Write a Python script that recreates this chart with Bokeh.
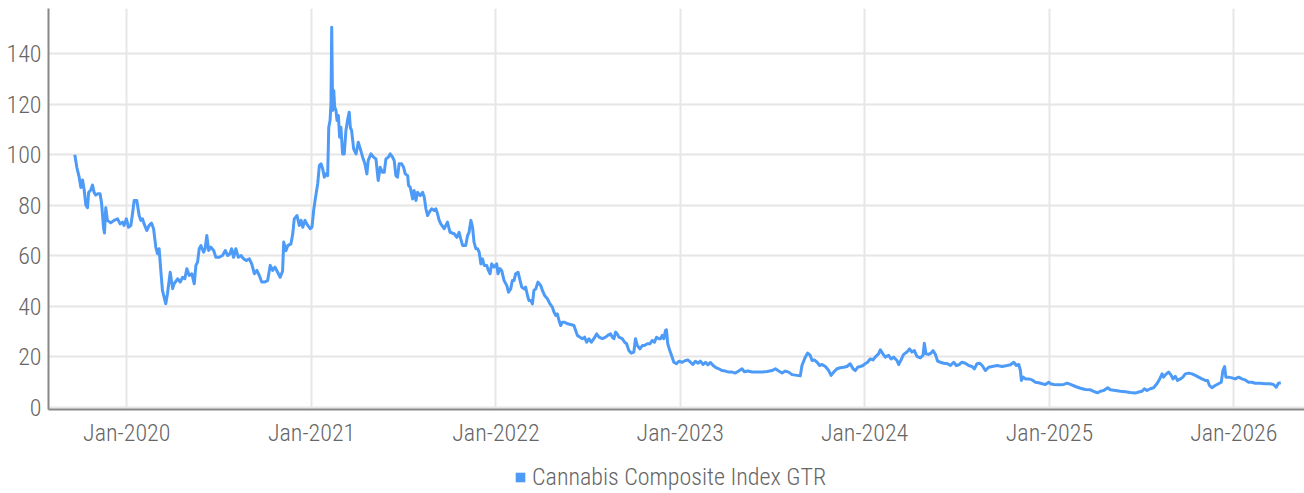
import datetime as dt
from bokeh.plotting import figure
from bokeh.layouts import column
from bokeh.models import (Range1d, FixedTicker, DatetimeTickFormatter, Legend,
                          LegendItem, ColumnDataSource)
from bokeh.embed import file_html
from bokeh.resources import INLINE

# ---------------- data ----------------
series_name = "Cannabis Composite Index GTR"

# dates as fractional years
years = [
    2019.718, 2019.729, 2019.742, 2019.751, 2019.760, 2019.769, 2019.778, 2019.787, 2019.793, 2019.805,
    2019.814, 2019.823, 2019.832, 2019.841, 2019.855, 2019.863, 2019.874, 2019.879, 2019.886, 2019.895,
    2019.913, 2019.931, 2019.950, 2019.964, 2019.977, 2019.985, 2019.998, 2020.009, 2020.022, 2020.031,
    2020.040, 2020.054, 2020.067, 2020.076, 2020.085, 2020.094, 2020.108, 2020.121, 2020.134, 2020.145,
    2020.157, 2020.166, 2020.175, 2020.184, 2020.193, 2020.202, 2020.211, 2020.220, 2020.235, 2020.248,
    2020.256, 2020.275, 2020.289, 2020.302, 2020.314, 2020.325, 2020.338, 2020.352, 2020.365, 2020.374,
    2020.383, 2020.392, 2020.401, 2020.416, 2020.424, 2020.433, 2020.443, 2020.455, 2020.470, 2020.482,
    2020.500, 2020.518, 2020.533, 2020.546, 2020.558, 2020.567, 2020.578, 2020.590, 2020.603, 2020.618,
    2020.632, 2020.646, 2020.663, 2020.676, 2020.690, 2020.704, 2020.717, 2020.730, 2020.744, 2020.762,
    2020.776, 2020.789, 2020.802, 2020.816, 2020.830, 2020.843, 2020.849, 2020.861, 2020.871, 2020.888,
    2020.898, 2020.906, 2020.921, 2020.933, 2020.943, 2020.952, 2020.964, 2020.979, 2020.993, 2021.002,
    2021.011, 2021.020, 2021.033, 2021.042, 2021.051, 2021.060, 2021.069, 2021.078, 2021.087, 2021.093,
    2021.100, 2021.105, 2021.109, 2021.114, 2021.120, 2021.125, 2021.132, 2021.138, 2021.145, 2021.152,
    2021.159, 2021.168, 2021.177, 2021.186, 2021.196, 2021.204, 2021.210, 2021.217, 2021.228, 2021.241,
    2021.253, 2021.264, 2021.277, 2021.289, 2021.300, 2021.307, 2021.322, 2021.336, 2021.349, 2021.361,
    2021.372, 2021.385, 2021.394, 2021.403, 2021.416, 2021.426, 2021.439, 2021.448, 2021.457, 2021.466,
    2021.475, 2021.488, 2021.499, 2021.508, 2021.521, 2021.526, 2021.535, 2021.548, 2021.556, 2021.566,
    2021.575, 2021.589, 2021.602, 2021.611, 2021.620, 2021.629, 2021.638, 2021.651, 2021.665, 2021.674,
    2021.683, 2021.692, 2021.701, 2021.719, 2021.737, 2021.751, 2021.773, 2021.788, 2021.800, 2021.809,
    2021.819, 2021.836, 2021.846, 2021.854, 2021.864, 2021.873, 2021.881, 2021.891, 2021.900, 2021.909,
    2021.918, 2021.927, 2021.936, 2021.950, 2021.959, 2021.968, 2021.977, 2021.990, 2022.004, 2022.011,
    2022.022, 2022.031, 2022.044, 2022.059, 2022.068, 2022.080, 2022.089, 2022.098, 2022.107, 2022.120,
    2022.131, 2022.140, 2022.152, 2022.161, 2022.171, 2022.179, 2022.189, 2022.198, 2022.206, 2022.216,
    2022.228, 2022.243, 2022.252, 2022.264, 2022.279, 2022.293, 2022.306, 2022.315, 2022.324, 2022.333,
    2022.342, 2022.351, 2022.360, 2022.373, 2022.387, 2022.405, 2022.423, 2022.432, 2022.442, 2022.456,
    2022.469, 2022.481, 2022.492, 2022.504, 2022.517, 2022.531, 2022.546, 2022.559, 2022.577, 2022.595,
    2022.607, 2022.622, 2022.631, 2022.640, 2022.649, 2022.658, 2022.667, 2022.685, 2022.698, 2022.709,
    2022.721, 2022.734, 2022.748, 2022.757, 2022.767, 2022.781, 2022.794, 2022.806, 2022.821, 2022.835,
    2022.848, 2022.860, 2022.871, 2022.884, 2022.893, 2022.902, 2022.911, 2022.920, 2022.925, 2022.932,
    2022.943, 2022.956, 2022.965, 2022.979, 2022.992, 2023.010, 2023.028, 2023.041, 2023.055, 2023.068,
    2023.082, 2023.097, 2023.109, 2023.124, 2023.137, 2023.149, 2023.164, 2023.178, 2023.191, 2023.209,
    2023.227, 2023.245, 2023.263, 2023.281, 2023.299, 2023.317, 2023.335, 2023.348, 2023.366, 2023.390,
    2023.417, 2023.444, 2023.471, 2023.498, 2023.516, 2023.534, 2023.552, 2023.570, 2023.588, 2023.606,
    2023.633, 2023.651, 2023.660, 2023.678, 2023.691, 2023.705, 2023.715, 2023.727, 2023.742, 2023.756,
    2023.769, 2023.787, 2023.805, 2023.818, 2023.832, 2023.850, 2023.868, 2023.886, 2023.904, 2023.922,
    2023.937, 2023.949, 2023.962, 2023.976, 2023.991, 2024.003, 2024.016, 2024.030, 2024.045, 2024.057,
    2024.075, 2024.085, 2024.099, 2024.112, 2024.130, 2024.143, 2024.157, 2024.175, 2024.184, 2024.197,
    2024.211, 2024.229, 2024.243, 2024.256, 2024.269, 2024.283, 2024.301, 2024.316, 2024.323, 2024.332,
    2024.346, 2024.359, 2024.370, 2024.383, 2024.395, 2024.410, 2024.428, 2024.449, 2024.464, 2024.482,
    2024.496, 2024.513, 2024.527, 2024.545, 2024.563, 2024.581, 2024.594, 2024.608, 2024.623, 2024.636,
    2024.653, 2024.671, 2024.690, 2024.717, 2024.744, 2024.771, 2024.789, 2024.807, 2024.821, 2024.834,
    2024.843, 2024.848, 2024.858, 2024.870, 2024.888, 2024.906, 2024.924, 2024.942, 2024.961, 2024.978,
    2024.996, 2025.005, 2025.023, 2025.050, 2025.078, 2025.096, 2025.114, 2025.141, 2025.168, 2025.195,
    2025.222, 2025.249, 2025.262, 2025.276, 2025.294, 2025.316, 2025.330, 2025.358, 2025.385, 2025.412,
    2025.439, 2025.466, 2025.484, 2025.502, 2025.515, 2025.529, 2025.547, 2025.565, 2025.583, 2025.598,
    2025.611, 2025.619, 2025.634, 2025.646, 2025.659, 2025.670, 2025.683, 2025.695, 2025.710, 2025.724,
    2025.737, 2025.755, 2025.773, 2025.791, 2025.809, 2025.827, 2025.845, 2025.858, 2025.868, 2025.881,
    2025.899, 2025.917, 2025.932, 2025.941, 2025.950, 2025.957, 2025.971, 2025.990, 2026.008, 2026.026,
    2026.044, 2026.062, 2026.080, 2026.098, 2026.116, 2026.143, 2026.170, 2026.197, 2026.215, 2026.230,
    2026.242, 2026.255,
]

index_values = [
    100, 95, 91, 87, 90, 86, 80, 79, 85, 86,
    88, 85, 84, 84.5, 84.5, 81, 71, 69, 79, 74,
    73, 74, 74.6, 72.6, 73.3, 72, 74.6, 71.3, 72, 76.6,
    81.9, 81.9, 75.9, 74, 74.6, 72.6, 70, 72, 72.9, 70.7,
    63.4, 60.8, 62.8, 54.2, 46.3, 43.6, 41, 45, 53.5, 47,
    48.9, 50.9, 49.6, 51.5, 50.9, 54.9, 52.2, 52.9, 48.9, 56.2,
    57.5, 62.8, 64, 61.4, 62.8, 68, 62.1, 63.4, 62.1, 59.4,
    59.4, 60.1, 62.1, 60.1, 60.8, 62.8, 59.4, 62.8, 59.4, 60.1,
    58.8, 58.1, 58.8, 56.8, 52.9, 54.2, 52.2, 49.6, 49.6, 50.2,
    56.2, 54.2, 55.5, 53.5, 51.5, 54, 65.4, 62, 64, 64.7,
    68.7, 74.6, 75.9, 72, 74, 71.3, 74, 72, 70.7, 71.3,
    77.9, 82.5, 88.5, 95.7, 96.4, 94.4, 91.1, 92.4, 91.7, 110.8,
    113.5, 120.1, 150.4, 117.5, 125.4, 118.8, 117.5, 113.5, 115.5, 106.9,
    110.8, 100.3, 100.3, 109.5, 114.1, 116.8, 110.8, 109.5, 102.3, 100.3,
    104.9, 102.3, 99, 96.4, 92.4, 97.7, 100.3, 99, 98.3, 89.8,
    95, 93, 93, 98.3, 99, 100.3, 99, 97.7, 91.7, 91.1,
    96.4, 96.4, 95, 92.4, 91.7, 87.8, 87.1, 82.5, 85.8, 81.9,
    85.1, 83.8, 85.1, 83.2, 78.6, 75.9, 77.2, 78.6, 77.9, 78.6,
    76.6, 74, 72.6, 70.7, 73.3, 69.3, 68.7, 67.3, 69.3, 66.7,
    64.1, 64.1, 68, 69.3, 74, 71.3, 65.4, 62.8, 62.8, 61.4,
    56.8, 58.8, 56.2, 56.2, 54.2, 52.9, 56.8, 55.5, 56.8, 52.9,
    54.9, 54.2, 50.2, 48.2, 45.6, 46.9, 50.2, 50.2, 52.9, 53.5,
    50.2, 47.6, 46.9, 47.6, 44.3, 42.3, 42.3, 41, 46.3, 46.9,
    49.6, 48.2, 46.3, 44.3, 43, 41, 39.7, 37.7, 36.4, 37,
    34.4, 32.4, 33.7, 33.7, 33.1, 32.8, 32.4, 30.5, 28.5, 27.8,
    27.2, 27.8, 25.8, 27.2, 25.8, 27.2, 29.1, 27.8, 27.2, 27.8,
    28.5, 29.1, 27.8, 27.2, 29.8, 29.1, 27.8, 27.2, 25.8, 25.2,
    22.5, 21.5, 21.9, 27.2, 24.5, 23.2, 24.5, 24.5, 25.2, 25.2,
    26.5, 25.8, 27.8, 27.2, 27.2, 28.5, 27.2, 30.5, 30.7, 25.2,
    22.5, 19.9, 17.9, 17.3, 18.3, 17.9, 18.6, 18.8, 17.9, 17,
    18.3, 17.5, 18.3, 17, 17.9, 16.9, 17.8, 16.6, 15.9, 15.3,
    14.6, 14.4, 14, 14, 13.6, 14.4, 15.3, 14.1, 14.4, 14,
    14, 14, 14.2, 14.6, 15.3, 14.4, 13.6, 14.4, 14, 13,
    12.7, 12.5, 16.6, 19.9, 21.5, 20.6, 18.6, 18.8, 17.9, 16.6,
    17, 16.2, 14.6, 12.7, 14, 15.3, 15.7, 15.9, 16.2, 17.3,
    15.3, 14.6, 15.9, 16.2, 16.6, 17.3, 17.9, 19.2, 18.8, 19.9,
    21.2, 22.8, 21.2, 19.9, 20.6, 19.2, 19.9, 18.6, 17, 18.8,
    21, 21.9, 23.2, 21.9, 22.5, 20.2, 19.6, 20.6, 25.4, 21.2,
    21, 21.5, 22.5, 21, 18.3, 17.9, 17.5, 17.3, 16.6, 17.9,
    16.6, 17, 17.9, 17.5, 16.6, 16.2, 15.3, 17.3, 17.5, 16.6,
    14.6, 15.9, 16.2, 16.6, 16.2, 16.6, 16.9, 17.9, 16.6, 17,
    14.6, 10.7, 12, 11.3, 11.3, 10.9, 10, 9.8, 9.4, 9.1,
    10, 9.4, 9.1, 9, 9.1, 9.6, 9.1, 8.3, 7.6, 7.1,
    7, 6.1, 5.8, 6.4, 6.7, 7.8, 7, 6.7, 6.4, 6.2,
    5.9, 5.7, 6.1, 6.4, 7.4, 6.7, 7.4, 7.8, 9.4, 11.3,
    13.3, 12, 13.3, 14, 12.9, 11.3, 12.3, 10.7, 11.3, 12,
    13.3, 13.6, 13.3, 12.7, 12, 11.3, 10.7, 10.7, 8.7, 7.8,
    8.7, 9.4, 10, 14.6, 16.2, 12, 12, 11.7, 11.3, 12,
    11.3, 10.9, 10, 10, 9.6, 9.6, 9.4, 9.4, 9.1, 8,
    9.6, 9.8,
]

y_ticks = [0, 20, 40, 60, 80, 100, 120, 140]
x_tick_years = [2020, 2021, 2022, 2023, 2024, 2025, 2026]

# ---------------- helpers ----------------
def yr_to_dt(f):
    y = int(f)
    start = dt.datetime(y, 1, 1)
    end = dt.datetime(y + 1, 1, 1)
    return start + (end - start) * (f - y)

EPOCH = dt.datetime(1970, 1, 1)
def to_ms(d):
    return (d - EPOCH).total_seconds() * 1000.0

n = min(len(years), len(index_values))
source = ColumnDataSource(dict(date=[yr_to_dt(f) for f in years[:n]],
                               val=index_values[:n]))

BLUE = "#4d9bf7"
TEXT = "#666666"
FONT = "Roboto Condensed Light, Roboto Condensed, Roboto"
FS = "24px"

# ---------------- main chart ----------------
p = figure(frame_width=1256, frame_height=401, x_axis_type="datetime",
           output_backend="svg", toolbar_location=None,
           x_range=Range1d(dt.datetime(2019, 7, 30), dt.datetime(2026, 5, 21)),
           y_range=Range1d(-0.8, 157.8),
           min_border_left=48, min_border_right=0, min_border_top=8,
           min_border_bottom=52)
p.outline_line_color = None
p.background_fill_color = "white"
p.border_fill_color = "white"

p.line("date", "val", source=source, line_color=BLUE, line_width=3,
       line_join="round")

p.xaxis.ticker = FixedTicker(ticks=[to_ms(dt.datetime(y, 1, 1)) for y in x_tick_years])
p.xaxis.formatter = DatetimeTickFormatter(years="%b-%Y", months="%b-%Y",
                                          days="%b-%Y", hours="%b-%Y")
p.yaxis.ticker = FixedTicker(ticks=y_ticks)

for ax in (p.xaxis[0], p.yaxis[0]):
    ax.axis_line_color = "#888888"
    ax.axis_line_width = 2
    ax.major_tick_line_color = None
    ax.minor_tick_line_color = None
    ax.major_tick_out = 0
    ax.major_tick_in = 0
    ax.major_label_text_font = FONT
    ax.major_label_text_font_size = FS
    ax.major_label_text_color = TEXT
p.xaxis.major_label_standoff = 9
p.yaxis.major_label_standoff = 7

p.xgrid.ticker = p.xaxis[0].ticker
p.ygrid.ticker = p.yaxis[0].ticker
for g in (p.xgrid[0], p.ygrid[0]):
    g.grid_line_color = "#e6e6e6"
    g.grid_line_width = 2

# ---------------- legend strip below the chart ----------------
lg = figure(width=1304, height=32, output_backend="svg", toolbar_location=None,
            x_range=Range1d(0, 10), y_range=Range1d(0, 10),
            x_axis_location=None, y_axis_location=None,
            min_border=0, min_border_left=0, min_border_right=0,
            min_border_top=0, min_border_bottom=0)
lg.outline_line_color = None
lg.xgrid.visible = False
lg.ygrid.visible = False
lg.border_fill_color = "white"

# legend swatch proxy: a single square marker kept outside the visible range
swatch_src = ColumnDataSource(dict(x=[-20], y=[-20]))
swatch = lg.scatter("x", "y", source=swatch_src, marker="square", size=10,
                    fill_color=BLUE, line_color=None)
legend = Legend(items=[LegendItem(label=series_name, renderers=[swatch])],
                orientation="horizontal", location=(460, 2),
                label_text_font=FONT, label_text_font_size=FS,
                label_text_color=TEXT, glyph_width=24, glyph_height=24,
                label_standoff=0, padding=0, margin=0, spacing=0,
                border_line_color=None, background_fill_alpha=0)
lg.add_layout(legend)

layout = column(p, lg, spacing=0)
open("out.html", "w").write(file_html(layout, INLINE))
